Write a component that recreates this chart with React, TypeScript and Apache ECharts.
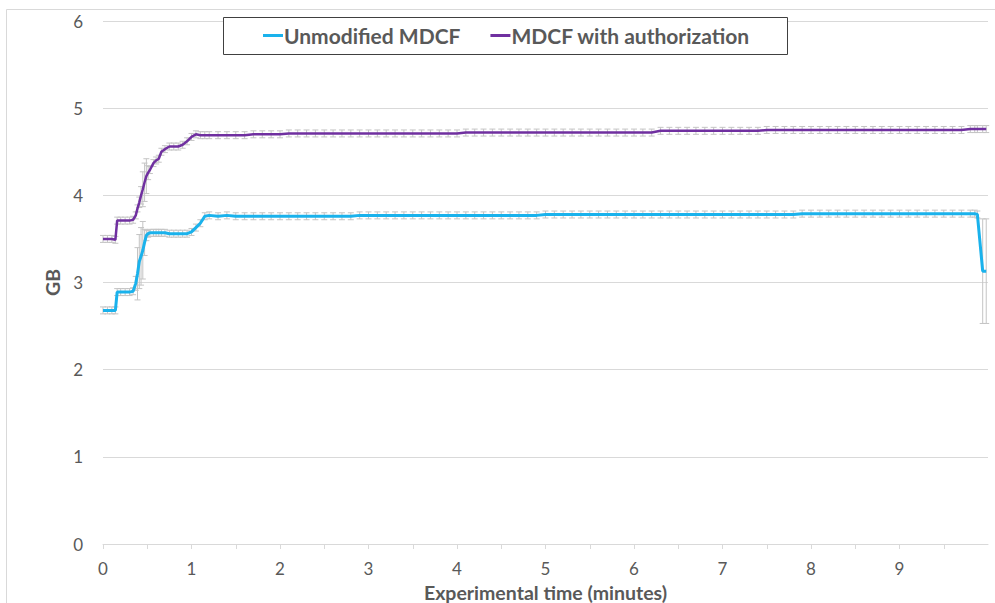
import React, { useEffect, useRef } from "react";
import * as echarts from "echarts";

const times = [
  0, 0.05, 0.1, 0.14, 0.16, 0.2, 0.25, 0.3, 0.34, 0.37, 0.39, 0.41, 0.43, 0.45, 0.47, 0.49, 0.51, 0.53,
  0.57, 0.6, 0.63, 0.66, 0.7, 0.75, 0.8, 0.85, 0.9, 0.95, 1.0, 1.05, 1.1, 1.15, 1.2,
  1.3, 1.4, 1.5, 1.6, 1.7, 1.8, 1.9, 2.0, 2.1, 2.2, 2.3, 2.4, 2.5, 2.6, 2.7, 2.8, 2.9, 3.0,
  3.1, 3.2, 3.3, 3.4, 3.5, 3.6, 3.7, 3.8, 3.9, 4.0, 4.1, 4.2, 4.3, 4.4, 4.5, 4.6, 4.7, 4.8, 4.9, 5.0,
  5.1, 5.2, 5.3, 5.4, 5.5, 5.6, 5.7, 5.8, 5.9, 6.0, 6.1, 6.2, 6.3, 6.4, 6.5, 6.6, 6.7, 6.8, 6.9, 7.0,
  7.1, 7.2, 7.3, 7.4, 7.5, 7.6, 7.7, 7.8, 7.9, 8.0, 8.1, 8.2, 8.3, 8.4, 8.5, 8.6, 8.7, 8.8, 8.9, 9.0,
  9.1, 9.2, 9.3, 9.4, 9.5, 9.6, 9.7, 9.8, 9.85, 9.88, 9.94, 9.98,
];

const unmodifiedGB = [
  2.68, 2.68, 2.68, 2.68, 2.89, 2.89, 2.89, 2.89, 2.9, 2.99, 3.1, 3.24, 3.3, 3.37, 3.46, 3.54, 3.56, 3.57,
  3.57, 3.57, 3.57, 3.57, 3.57, 3.56, 3.56, 3.56, 3.56, 3.56, 3.58, 3.63, 3.68, 3.76, 3.77,
  3.76, 3.77, 3.76, 3.76, 3.76, 3.76, 3.76, 3.76, 3.76, 3.76, 3.76, 3.76, 3.76, 3.76, 3.76, 3.76, 3.77, 3.77,
  3.77, 3.77, 3.77, 3.77, 3.77, 3.77, 3.77, 3.77, 3.77, 3.77, 3.77, 3.77, 3.77, 3.77, 3.77, 3.77, 3.77, 3.77, 3.77, 3.78,
  3.78, 3.78, 3.78, 3.78, 3.78, 3.78, 3.78, 3.78, 3.78, 3.78, 3.78, 3.78, 3.78, 3.78, 3.78, 3.78, 3.78, 3.78, 3.78, 3.78,
  3.78, 3.78, 3.78, 3.78, 3.78, 3.78, 3.78, 3.78, 3.79, 3.79, 3.79, 3.79, 3.79, 3.79, 3.79, 3.79, 3.79, 3.79, 3.79, 3.79,
  3.79, 3.79, 3.79, 3.79, 3.79, 3.79, 3.79, 3.79, 3.79, 3.78, 3.13, 3.13,
];

const authorizationGB = [
  3.5, 3.5, 3.5, 3.49, 3.71, 3.71, 3.71, 3.71, 3.72, 3.77, 3.85, 3.92, 4.0, 4.07, 4.15, 4.22, 4.26, 4.29,
  4.37, 4.4, 4.42, 4.5, 4.53, 4.56, 4.56, 4.56, 4.58, 4.62, 4.67, 4.7, 4.69, 4.69, 4.69,
  4.69, 4.69, 4.69, 4.69, 4.7, 4.7, 4.7, 4.7, 4.71, 4.71, 4.71, 4.71, 4.71, 4.71, 4.71, 4.71, 4.71, 4.71,
  4.71, 4.71, 4.71, 4.71, 4.71, 4.71, 4.71, 4.71, 4.71, 4.71, 4.72, 4.72, 4.72, 4.72, 4.72, 4.72, 4.72, 4.72, 4.72, 4.72,
  4.72, 4.72, 4.72, 4.72, 4.72, 4.72, 4.72, 4.72, 4.72, 4.72, 4.72, 4.72, 4.74, 4.74, 4.74, 4.74, 4.74, 4.74, 4.74, 4.74,
  4.74, 4.74, 4.74, 4.74, 4.75, 4.75, 4.75, 4.75, 4.75, 4.75, 4.75, 4.75, 4.75, 4.75, 4.75, 4.75, 4.75, 4.75, 4.75, 4.75,
  4.75, 4.75, 4.75, 4.75, 4.75, 4.75, 4.75, 4.76, 4.76, 4.76, 4.76, 4.76,
];

// typical (small) error-bar half-height, with the larger ones read at specific times
const typicalErr = 0.04;
const unmodifiedLargeErr: [number, number][] = [
  [0.37, 0.08], [0.39, 0.3], [0.41, 0.31], [0.43, 0.33], [0.45, 0.33], [0.47, 0.15], [0.49, 0.06],
  [9.94, 0.6], [9.98, 0.6],
];
const authorizationLargeErr: [number, number][] = [
  [0.41, 0.06], [0.43, 0.1], [0.45, 0.2], [0.47, 0.22], [0.49, 0.2], [0.51, 0.08],
];

const yTicks = [0, 1, 2, 3, 4, 5, 6];

const CYAN = "#1AB2EC";
const PURPLE = "#7030A0";
const FONT = "Lato, 'Open Sans', sans-serif";

function errFor(list: [number, number][], t: number) {
  const f = list.find((p) => p[0] === t);
  return f ? f[1] : typicalErr;
}

function errData(values: number[], large: [number, number][]) {
  return times.map((t, i) => [t, values[i], errFor(large, t)]);
}

const renderErr = (params: any, api: any) => {
  const t = api.value(0);
  const v = api.value(1);
  const e = api.value(2);
  const top = api.coord([t, v + e]);
  const bot = api.coord([t, v - e]);
  const hw = 3;
  const style = { stroke: "#C4C4C4", lineWidth: 1 };
  return {
    type: "group",
    children: [
      { type: "line", shape: { x1: top[0], y1: top[1], x2: bot[0], y2: bot[1] }, style },
      { type: "line", shape: { x1: top[0] - hw, y1: top[1], x2: top[0] + hw, y2: top[1] }, style },
      { type: "line", shape: { x1: bot[0] - hw, y1: bot[1], x2: bot[0] + hw, y2: bot[1] }, style },
    ],
  };
};

export default function App() {
  const ref = useRef<HTMLDivElement>(null);
  useEffect(() => {
    if (!ref.current) return;
    const chart = echarts.init(ref.current, undefined, { renderer: "svg" });
    chart.setOption({
      animation: false,
      backgroundColor: "#ffffff",
      textStyle: { fontFamily: FONT },
      grid: { left: 103, right: 7, top: 21, bottom: 59, containLabel: false, outerBoundsMode: "none" },
      graphic: [
        {
          type: "rect",
          shape: { x: 6.5, y: 9.5, width: 1000, height: 600 },
          style: { fill: "none", stroke: "#D9D9D9", lineWidth: 1 },
          z: 0,
          silent: true,
        },
        {
          type: "rect",
          shape: { x: 223.5, y: 17.5, width: 564, height: 37 },
          style: { fill: "#ffffff", stroke: "#404040", lineWidth: 1 },
          z: 50,
          silent: true,
        },
      ],
      legend: {
        z: 60,
        left: 263,
        top: 25,
        padding: 0,
        itemGap: 30,
        itemWidth: 20,
        itemHeight: 3,
        icon: "rect",
        textStyle: { fontFamily: FONT, fontWeight: "bold", fontSize: 21, color: "#595959", padding: [0, 0, 0, -4] },
        data: ["Unmodified MDCF", "MDCF with authorization"],
      },
      xAxis: {
        type: "value",
        min: 0,
        max: 10,
        interval: 0.5,
        name: "Experimental time (minutes)",
        nameLocation: "middle",
        nameGap: 38,
        nameTextStyle: { fontFamily: FONT, fontWeight: "bold", fontSize: 19.5, color: "#595959" },
        axisLine: { show: true, lineStyle: { color: "#D9D9D9", width: 1 } },
        axisTick: { show: true, length: 5, lineStyle: { color: "#D9D9D9" } },
        splitLine: { show: false },
        axisLabel: {
          fontFamily: FONT,
          fontSize: 17,
          color: "#595959",
          margin: 16,
          showMaxLabel: false,
          formatter: (v: number) => (Number.isInteger(v) && v < 10 ? String(v) : ""),
        },
      },
      yAxis: {
        type: "value",
        min: yTicks[0],
        max: yTicks[yTicks.length - 1],
        interval: 1,
        name: "GB",
        nameLocation: "middle",
        nameRotate: 90,
        nameGap: 38,
        nameTextStyle: { fontFamily: FONT, fontWeight: "bold", fontSize: 19.5, color: "#595959" },
        axisLine: { show: false },
        axisTick: { show: false },
        splitLine: { show: true, lineStyle: { color: "#D9D9D9", width: 1 } },
        axisLabel: { fontFamily: FONT, fontSize: 17, color: "#595959", margin: 20 },
      },
      series: [
        {
          name: "errU",
          type: "custom",
          renderItem: renderErr,
          data: errData(unmodifiedGB, unmodifiedLargeErr),
          encode: { x: 0, y: 1 },
          z: 1,
          silent: true,
        },
        {
          name: "errA",
          type: "custom",
          renderItem: renderErr,
          data: errData(authorizationGB, authorizationLargeErr),
          encode: { x: 0, y: 1 },
          z: 1,
          silent: true,
        },
        {
          name: "Unmodified MDCF",
          type: "line",
          data: times.map((t, i) => [t, unmodifiedGB[i]]),
          showSymbol: false,
          symbol: "none",
          color: CYAN,
          lineStyle: { color: CYAN, width: 3 },
          z: 3,
        },
        {
          name: "MDCF with authorization",
          type: "line",
          data: times.map((t, i) => [t, authorizationGB[i]]),
          showSymbol: false,
          symbol: "none",
          color: PURPLE,
          lineStyle: { color: PURPLE, width: 2.5 },
          z: 3,
        },
      ],
    });
    return () => chart.dispose();
  }, []);
  return <div ref={ref} style={{ width: 995, height: 603, position: "absolute", left: 0, top: 0 }} />;
}
